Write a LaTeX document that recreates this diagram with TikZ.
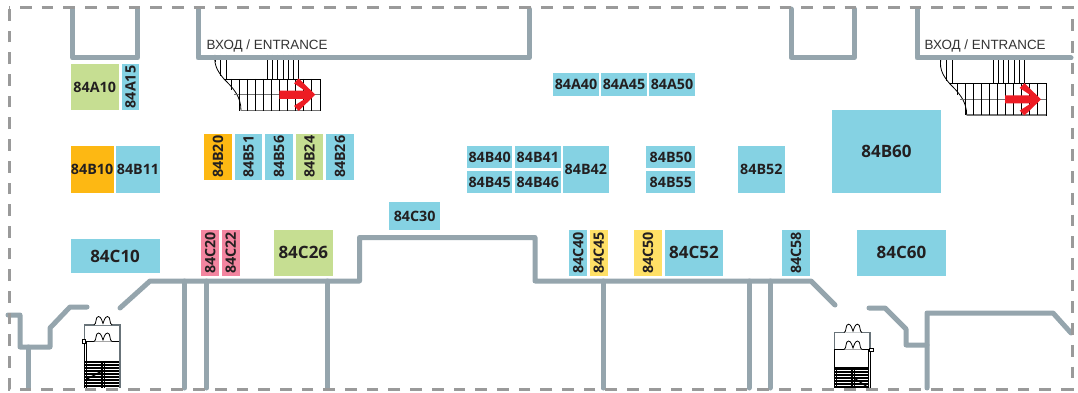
\documentclass[tikz,border=0pt]{standalone}
\usepackage{fontspec}
\setmainfont{Open Sans}
\newfontfamily\arialfont{Liberation Sans}
\definecolor{boothblue}{HTML}{85D2E3}
\definecolor{boothgreen}{HTML}{C6DE92}
\definecolor{boothorange}{HTML}{FDB813}
\definecolor{boothpink}{HTML}{F385A0}
\definecolor{boothyellow}{HTML}{FFE066}
\definecolor{wallgray}{HTML}{95A5AD}
\definecolor{dashgray}{HTML}{9A9A9A}
\definecolor{labelink}{HTML}{231F20}
\definecolor{arrowred}{HTML}{ED1C24}
\newcommand{\booth}[7][]{%
  \path[fill=#2] (#4,#5) rectangle (#6,#7);
  \node[boothlabel,#1] (#3) at ({(#4+#6)/2},{(#5+#7)/2}) {#3};}
\tikzset{
  x=1pt,y=-1pt,
  boothlabel/.style={inner sep=0pt,font=\bfseries\fontsize{14.3}{15}\selectfont,text=labelink},
  biglabel/.style={font=\bfseries\fontsize{17}{18}\selectfont},
  vert/.style={rotate=90},
  wall/.style={draw=wallgray,line width=5pt,line join=round,line cap=round},
  bordr/.style={draw=dashgray,line width=3pt,dash pattern=on 11.7pt off 10pt,dash phase=10.7pt},
  stair/.style={draw=black,line width=0.8pt},
  stairh/.style={draw=black,line width=1.2pt},
  stairg/.style={draw=black!55,line width=1.3pt},
  doorwall/.style={draw=wallgray!70!black,line width=1.5pt},
  entrancelabel/.style={inner sep=0pt,anchor=base west,font=\arialfont\fontsize{13.4}{14}\selectfont,text=black!80},
}
\newcommand{\escal}{%
  \foreach \xx/\yy in {215/62,220.7/76,226.7/79,267.3/79,272.5/79,277.8/79,283/79,288.2/79,293.4/79,298.7/79}
    \draw[stair] (\xx,55) -- (\xx,\yy);
  \draw[stair] (215,55) .. controls (213.5,66) and (219,73) .. (224,79)
     .. controls (233,88) and (241,96) .. (241,110.7);
  \draw[stair] (224,79) -- (320.3,79) -- (320.3,110.7) -- (241,110.7);
  \draw[stairg] (234,94.7) -- (320.3,94.7);
  \draw[stairg] (241,110.2) -- (320.3,110.2);
  \foreach \xx in {231.7,239.7,...,312}
    \draw[stair] (\xx,79) -- (\xx,{\xx<235?90:110.7});
  \fill[arrowred] (279.3,90.7) -- (305,90.7) -- (294,83.3) -- (298.7,78.4) -- (315.3,94.7)
     -- (298.7,110.8) -- (294,105.9) -- (305,98.8) -- (279.3,98.8) -- cycle;
}
\newcommand{\doorpair}[2]{% centre x, base y
  \draw[stair,fill=white] ({#1-9},#2) .. controls ({#1-6},{#2-1}) and ({#1-8},{#2-8.5}) .. ({#1-4.5},{#2-8.5})
     .. controls ({#1-2},{#2-8.5}) and ({#1-1},{#2-4}) .. ({#1},{#2-1.5})
     .. controls ({#1+1},{#2-4}) and ({#1+2},{#2-8.5}) .. ({#1+4.5},{#2-8.5})
     .. controls ({#1+8},{#2-8.5}) and ({#1+6},{#2-1}) .. ({#1+9},#2);
}
\begin{document}
\begin{tikzpicture}
\useasboundingbox (0,0) rectangle (1078,393);
\fill[white] (0,0) rectangle (1078,393);
% stairs at the entrances
\escal
\begin{scope}[shift={(725.7pt,-4.7pt)}]\escal\end{scope}
% walls
\draw[wall] (72.7,9) -- (72.7,58) -- (137.3,58) -- (137.3,9);
\draw[wall] (198,9) -- (198,58) -- (529,58) -- (529,9);
\draw[wall] (791,9) -- (791,57.5) -- (854.3,57.5) -- (854.3,9);
\draw[wall] (917,9) -- (917,58) -- (1071,58);
\draw[wall] (120,308) -- (150,281) -- (359.5,281) -- (359.5,237.5) -- (535,237.5) -- (535,281) -- (811,281) -- (835,305);
\foreach \xx in {184.5,206.5,327,603,749,770}
  \draw[wall] (\xx,281) -- (\xx,388);
\draw[wall] (8,315) -- (20,315) -- (20,347) -- (50,347) -- (50,328) -- (70,307) -- (87,307);
\draw[wall] (28,347) -- (28,388);
\draw[wall] (869,308) -- (885,308) -- (906,329) -- (906,345) -- (927,345);
\draw[wall] (927,388) -- (927,313) -- (1053,313) -- (1071,333);
% lower stairs, left
\draw[doorwall] (84.3,341) -- (84.3,325) -- (120,325) -- (120,361);
\draw[stair] (84.3,341) -- (120,341);
\draw[stair] (86.5,341) -- (86.5,388);
\draw[stair] (84.3,341) -- (84.3,388);
\draw[doorwall] (120,341) -- (120,388);
\doorpair{103}{325}
\doorpair{103}{341.5}
\fill[white,draw=black,line width=.6pt] (82,339.3) rectangle (85.5,342.8);
\foreach \yy in {362,365,...,388}
  \draw[stairh] (85,\yy) -- (119,\yy);
\draw[stairh] (102,361) -- (102,388);
\draw[stairh] (104.5,361) -- (104.5,388);
\draw[stairh] (87,379) -- (102,371);
% lower stairs, right
\draw[doorwall] (834.3,349) -- (834.3,332.7) -- (870,332.7) -- (870,349);
\draw[stair] (834.3,349.5) -- (870,349.5);
\draw[stair] (870,349) -- (870,388);
\draw[stair] (868,349) -- (868,388);
\doorpair{853}{332.7}
\doorpair{853}{349.5}
\fill[white,draw=black,line width=.6pt] (869,347.8) rectangle (872.8,351.5);
\foreach \yy in {369,372,...,388}
  \draw[stairh] (835,\yy) -- (869,\yy);
\draw[stairh] (834.3,349) -- (834.3,388);
\draw[stairh] (836.5,368) -- (836.5,388);
\draw[stairh] (852,368) -- (852,388);
\draw[stairh] (854.5,368) -- (854.5,388);
\draw[stairh] (834.3,368) -- (869,368);
\draw[stairh] (854,378) -- (869,388);
% outer border
\draw[bordr] (9,8) -- (1072,8) -- (1072,389) -- (9,389) -- cycle;
% booths
\booth{boothgreen}{84A10}{70.5}{64}{119}{110}
\booth[vert]{boothblue}{84A15}{121.5}{64}{139.3}{110}
\booth{boothorange}{84B10}{70.5}{146.3}{113.7}{193}
\booth{boothblue}{84B11}{116.3}{146.3}{159.7}{193}
\booth[biglabel]{boothblue}{84C10}{70.5}{239}{159.7}{273}
\booth[vert]{boothorange}{84B20}{204}{134}{232}{179.7}
\booth[vert]{boothblue}{84B51}{234.7}{134}{262.3}{179.7}
\booth[vert]{boothblue}{84B56}{265}{134}{293}{179.7}
\booth[vert]{boothgreen}{84B24}{295.7}{134}{323.3}{179.7}
\booth[vert]{boothblue}{84B26}{326}{134}{354}{179.7}
\booth[vert]{boothpink}{84C20}{201.3}{230}{219}{275.7}
\booth[vert]{boothpink}{84C22}{222}{230}{239.7}{275.7}
\booth[biglabel]{boothgreen}{84C26}{274}{230}{332.7}{275.7}
\booth{boothblue}{84B40}{467}{146.3}{512.3}{168.3}
\booth{boothblue}{84B41}{515}{146.3}{560.7}{168.3}
\booth{boothblue}{84B45}{467}{171}{512.3}{193}
\booth{boothblue}{84B46}{515}{171}{560.7}{193}
\booth{boothblue}{84B42}{563}{146.3}{608.7}{193}
\booth{boothblue}{84B50}{646.3}{146.3}{695.3}{168.3}
\booth{boothblue}{84B55}{646.3}{171}{695.3}{193}
\booth{boothblue}{84B52}{737.7}{146.3}{785}{193}
\booth{boothblue}{84C30}{389.3}{202}{440}{230}
\booth[vert]{boothblue}{84C40}{569.3}{230}{587.3}{275.7}
\booth[vert]{boothyellow}{84C45}{590}{230}{607.7}{275.7}
\booth[vert]{boothyellow}{84C50}{634}{230}{662}{275.7}
\booth[biglabel]{boothblue}{84C52}{665}{230}{723}{275.7}
\booth[vert]{boothblue}{84C58}{782}{230}{810}{275.7}
\booth[biglabel]{boothblue}{84C60}{857}{230}{946}{275.7}
\booth[biglabel]{boothblue}{84B60}{832}{110}{941}{193}
\booth{boothblue}{84A40}{553}{73}{599}{96}
\booth{boothblue}{84A45}{601}{73}{647}{96}
\booth{boothblue}{84A50}{649}{73}{695}{96}
% entrance labels
\node[entrancelabel] (entA) at (206.5,50) {ВХОД / ENTRANCE};
\node[entrancelabel] (entB) at (924.5,50) {ВХОД / ENTRANCE};
\end{tikzpicture}
\end{document}
